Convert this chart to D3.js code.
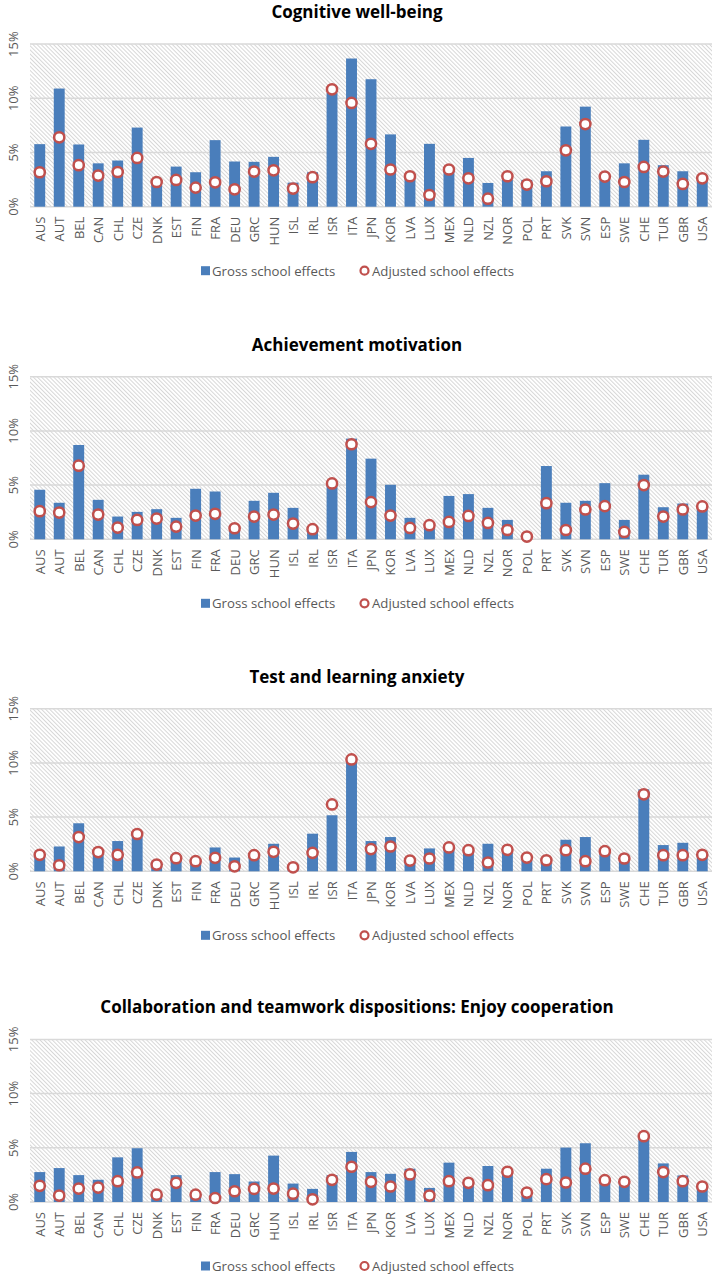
<!DOCTYPE html>
<html>
<head>
<meta charset="utf-8">
<script src="https://cdn.jsdelivr.net/npm/d3@7"></script>
<style>
  html, body { margin: 0; padding: 0; background: #fff; }
  svg { display: block; }
  text { font-family: "Open Sans", "Noto Sans", sans-serif; }
</style>
</head>
<body>
<svg id="chart" width="714" height="1275"></svg>
<script>
const countries = ["AUS","AUT","BEL","CAN","CHL","CZE","DNK","EST","FIN","FRA","DEU","GRC","HUN","ISL","IRL","ISR","ITA","JPN","KOR","LVA","LUX","MEX","NLD","NZL","NOR","POL","PRT","SVK","SVN","ESP","SWE","CHE","TUR","GBR","USA"];

const panelTitles = [
  "Cognitive well-being",
  "Achievement motivation",
  "Test and learning anxiety",
  "Collaboration and teamwork dispositions: Enjoy cooperation"
];

const seriesNames = ["Gross school effects", "Adjusted school effects"];

const yTicks = [0, 5, 10, 15];
const yTickLabels = ["0%", "5%", "10%", "15%"];

// Values in percent
const grossCognitive = [5.77,10.9,5.74,4.0,4.26,7.3,2.2,3.7,3.18,6.14,4.17,4.14,4.6,2.22,3.18,10.5,13.67,11.76,6.67,2.6,5.8,3.3,4.5,2.19,2.5,2.47,3.27,7.4,9.23,2.5,4.0,6.17,3.83,3.27,2.4];
const adjCognitive   = [3.18,6.4,3.83,2.87,3.2,4.5,2.28,2.47,1.76,2.25,1.6,3.24,3.36,1.67,2.72,10.83,9.57,5.8,3.43,2.81,1.08,3.43,2.62,0.74,2.81,2.04,2.35,5.2,7.62,2.78,2.28,3.67,3.24,2.1,2.62];

const grossMotivation = [4.57,3.37,8.7,3.64,2.1,2.53,2.78,1.98,4.66,4.41,0.9,3.55,4.29,2.9,0.7,4.9,9.29,7.44,5.03,1.98,1.2,4.0,4.17,2.9,1.79,0.05,6.76,3.37,3.55,5.18,1.79,5.96,2.96,3.3,2.8];
const adjMotivation   = [2.59,2.47,6.79,2.28,1.08,1.79,1.91,1.17,2.19,2.35,1.02,2.1,2.28,1.45,0.93,5.15,8.77,3.43,2.19,1.05,1.3,1.6,2.16,1.51,0.86,0.25,3.33,0.86,2.75,3.06,0.68,5.0,2.1,2.75,3.03];

const grossAnxiety = [1.4,2.29,4.43,1.6,2.79,3.2,0.5,1.1,0.8,2.2,1.27,1.3,2.54,0.2,3.47,5.17,10.1,2.79,3.16,0.8,2.11,2.0,1.7,2.54,1.8,1.0,0.8,2.91,3.16,1.6,0.9,7.56,2.42,2.63,1.3];
const adjAnxiety   = [1.52,0.56,3.16,1.77,1.52,3.44,0.62,1.21,0.93,1.24,0.46,1.49,1.8,0.37,1.7,6.17,10.32,2.05,2.29,0.99,1.18,2.2,1.95,0.81,1.98,1.27,1.02,1.95,0.93,1.86,1.18,7.1,1.49,1.49,1.52];

const grossCooperation = [2.76,3.13,2.48,2.05,4.12,4.96,0.6,2.48,0.6,2.76,2.57,1.89,4.28,1.7,1.21,2.48,4.62,2.76,2.6,3.07,1.3,3.63,1.8,3.32,2.7,0.6,3.07,5.02,5.42,1.8,1.8,5.9,3.56,2.45,1.3];
const adjCooperation   = [1.49,0.59,1.24,1.33,1.92,2.73,0.68,1.77,0.68,0.37,0.99,1.21,1.24,0.77,0.25,2.05,3.25,1.86,1.43,2.54,0.59,1.92,1.77,1.55,2.79,0.87,2.11,1.8,3.07,2.01,1.86,6.07,2.76,1.92,1.43];

const grossSeries = [grossCognitive, grossMotivation, grossAnxiety, grossCooperation];
const adjSeries = [adjCognitive, adjMotivation, adjAnxiety, adjCooperation];

const svg = d3.select("#chart");
const defs = svg.append("defs");
const pat = defs.append("pattern")
  .attr("id", "hatch")
  .attr("patternUnits", "userSpaceOnUse")
  .attr("width", 2.9).attr("height", 10)
  .attr("patternTransform", "rotate(-45)");
pat.append("rect").attr("width", 2.9).attr("height", 10).attr("fill", "#fff");
pat.append("line").attr("x1", 0.5).attr("y1", 0).attr("x2", 0.5).attr("y2", 10)
  .attr("stroke", "#d2d2d2").attr("stroke-width", 0.9);

const plotLeft = 30, plotRight = 712;
const baselines = [206.7, 539.3, 871.3, 1202];
const plotH = 162.6;

const BLUE = "#4a7ebb";
const RED = "#c0504d";
const GRID = "#d9d9d9";
const TXT = "#595959";

const x = d3.scaleBand().domain(countries).range([plotLeft, plotRight]).paddingInner(0.44).paddingOuter(0.22);

panelTitles.forEach((title, i) => {
  const base = baselines[i];
  const y = d3.scaleLinear().domain([0, 15]).range([base, base - plotH]);
  const g = svg.append("g");

  // hatched plot background
  g.append("rect")
    .attr("x", plotLeft).attr("y", y(15))
    .attr("width", plotRight - plotLeft).attr("height", y(0) - y(15))
    .attr("fill", "url(#hatch)");

  // gridlines
  g.selectAll(".grid").data(yTicks).join("line")
    .attr("x1", plotLeft).attr("x2", plotRight)
    .attr("y1", d => y(d)).attr("y2", d => y(d))
    .attr("stroke", GRID).attr("stroke-width", 1.5);

  // y tick labels rotated
  g.selectAll(".ytick").data(yTicks).join("text")
    .attr("transform", d => `translate(13,${y(d)}) rotate(-90)`)
    .attr("text-anchor", "middle")
    .attr("dominant-baseline", "central")
    .attr("font-size", 13)
    .attr("fill", TXT)
    .text((d, k) => yTickLabels[k]);

  // bars
  g.selectAll(".bar").data(grossSeries[i]).join("rect")
    .attr("x", (d, k) => x(countries[k]))
    .attr("width", x.bandwidth())
    .attr("y", d => y(d))
    .attr("height", d => y(0) - y(d))
    .attr("fill", BLUE);

  // adjusted markers
  g.selectAll(".dot").data(adjSeries[i]).join("circle")
    .attr("cx", (d, k) => x(countries[k]) + x.bandwidth() / 2)
    .attr("cy", d => y(d))
    .attr("r", 5.1)
    .attr("fill", "#fff")
    .attr("stroke", RED)
    .attr("stroke-width", 2.5);

  // x labels rotated
  g.selectAll(".xlab").data(countries).join("text")
    .attr("transform", d => `translate(${x(d) + x.bandwidth() / 2},${base + 10}) rotate(-90)`)
    .attr("text-anchor", "end")
    .attr("dominant-baseline", "central")
    .attr("font-size", 13)
    .attr("fill", TXT)
    .text(d => d);

  // title
  g.append("text")
    .attr("x", 357).attr("y", base - 195.3)
    .attr("text-anchor", "middle")
    .attr("dominant-baseline", "central")
    .attr("font-size", 17)
    .attr("font-weight", "bold")
    .attr("fill", "#000")
    .text(title);

  // legend
  const ly = base + 64;
  const lg = g.append("g");
  lg.append("rect").attr("x", 201).attr("y", ly - 4.5).attr("width", 9).attr("height", 9).attr("fill", BLUE);
  lg.append("text").attr("x", 212).attr("y", ly).attr("dominant-baseline", "central")
    .attr("font-size", 13.2).attr("fill", TXT).text(seriesNames[0]);
  lg.append("circle").attr("cx", 364.5).attr("cy", ly).attr("r", 4)
    .attr("fill", "#fff").attr("stroke", RED).attr("stroke-width", 2.2);
  lg.append("text").attr("x", 372).attr("y", ly).attr("dominant-baseline", "central")
    .attr("font-size", 13.2).attr("fill", TXT).text(seriesNames[1]);
});
</script>
</body>
</html>
